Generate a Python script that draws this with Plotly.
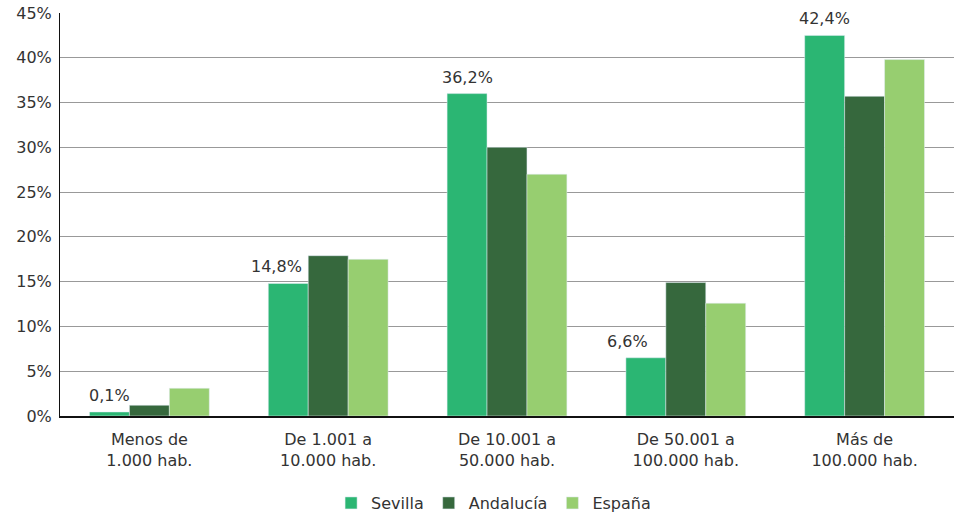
import plotly.graph_objects as go

categories = ["Menos de<br>1.000 hab.", "De 1.001 a<br>10.000 hab.", "De 10.001 a<br>50.000 hab.",
              "De 50.001 a<br>100.000 hab.", "Más de<br>100.000 hab."]
sevilla = [0.45, 14.8, 36.0, 6.5, 42.5]
sevilla_labels = ["0,1%", "14,8%", "36,2%", "6,6%", "42,4%"]
andalucia = [1.2, 17.9, 30.0, 14.9, 35.7]
espana = [3.1, 17.5, 27.0, 12.6, 39.8]
y_ticks = [0, 5, 10, 15, 20, 25, 30, 35, 40, 45]
y_tick_labels = [f"{v}%" for v in y_ticks]

font_family = "DejaVu Sans, Verdana, sans-serif"
txt_color = "#333333"

fig = go.Figure()
fig.add_trace(go.Bar(name="Sevilla", x=categories, y=sevilla, marker_color="#2bb673"))
fig.add_trace(go.Bar(name="Andalucía", x=categories, y=andalucia, marker_color="#36683d"))
fig.add_trace(go.Bar(name="España", x=categories, y=espana, marker_color="#97ce70"))

# value labels above Sevilla bars (Sevilla bar sits 40px left of category centre)
label_nudge = [0, -12, 0, -18, 0]
for cat, val, lab, nudge in zip(categories, sevilla, sevilla_labels, label_nudge):
    fig.add_annotation(x=cat, y=val, text=lab, showarrow=False, xref="x", yref="y",
                       xanchor="center", yanchor="bottom", xshift=-40 + nudge, yshift=5,
                       font=dict(size=16, color=txt_color, family=font_family))

fig.update_layout(
    width=954, height=513,
    margin=dict(l=60, r=0, t=13, b=97, autoexpand=False),
    paper_bgcolor="white", plot_bgcolor="white",
    barmode="group", bargap=0.33, bargroupgap=0,
    font=dict(family=font_family, size=16, color=txt_color),
    showlegend=True,
    legend=dict(orientation="h", x=0.485, xanchor="center", y=-0.216, yanchor="middle",
                font=dict(size=16, color=txt_color), traceorder="normal"),
    xaxis=dict(showline=True, linecolor="#111111", linewidth=2, ticks="", automargin=False,
               tickfont=dict(size=16, color=txt_color), showgrid=False, ticklabelstandoff=8),
    yaxis=dict(range=[0, 45], tickvals=y_ticks, ticktext=y_tick_labels, showline=True,
               linecolor="#111111", linewidth=1, showgrid=True, gridcolor="#999999",
               gridwidth=1, ticks="", zeroline=False, automargin=False,
               tickfont=dict(size=16, color=txt_color), ticklabelstandoff=4),
)

fig.write_html("out.html", config={"displayModeBar": False},
               post_script="document.body.style.margin='0';document.body.style.overflow='hidden';")
